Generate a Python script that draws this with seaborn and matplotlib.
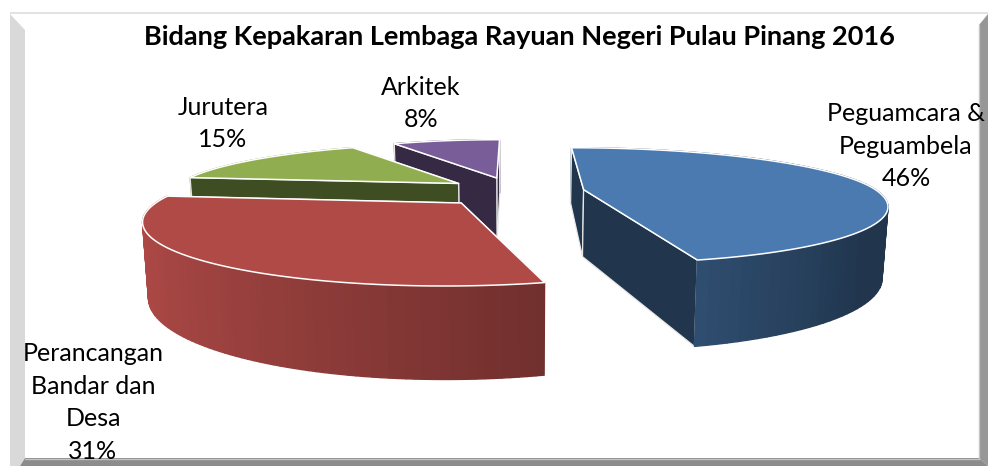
import numpy as np
import matplotlib
matplotlib.use('Agg')
import matplotlib.pyplot as plt
from matplotlib.patches import Polygon
import seaborn as sns

# data
kategori = ['Peguamcara &\nPeguambela', 'Perancangan\nBandar dan\nDesa', 'Jurutera', 'Arkitek']
nilai = [46, 31, 15, 8]
warna = ['#4a7ab0', '#b04a47', '#90ae50', '#795d99']
label_pos = [(906, 146), (93, 402.5), (223, 123.5), (421, 103.5)]

sns.set_theme(style='white')
plt.rcParams['font.family'] = ['Lato', 'DejaVu Sans']

# perspective settings for the exploded 3D pie
CX, HORIZON = 513.5, -54
C0, DY = 0.004074, 0.0002436   # depth -> scale
FX = 0.29
RX = [4.13, 4.1, 4.05, 3.8]
GESER = [0, -0.04, 0.03, 0]    # small sideways nudge per slice
RY_BACK, RY_FRONT = 3.5, 3.9
Z_SCALE, X_SHRINK = 1.275, 0.984


def proj(x, y, bottom=False):
    s = 1 / (C0 + DY * np.asarray(y))
    sx = FX * np.asarray(x) * s
    if bottom:
        return CX + sx * X_SHRINK, HORIZON + s * Z_SCALE
    return CX + sx, HORIZON + s


def shade(col, f):
    return tuple(np.array(matplotlib.colors.to_rgb(col)) * f)


def wall_factor(deg):
    # walls get darker toward the right of the picture
    return np.interp(np.sin(np.radians(deg)), [-1, .25, .8], [1.0, .64, .44])


fig, ax = plt.subplots(figsize=(9.88, 4.66), dpi=100)
fig.subplots_adjust(0, 0, 1, 1)
ax.set_xlim(0, 988)
ax.set_ylim(466, 0)
ax.axis('off')

# frame
ax.add_patch(Polygon([(10, 14), (25, 30), (25, 458), (20, 466), (10, 466)], fc='#d9d9d9', ec='none'))
ax.add_patch(Polygon([(10, 12), (988, 12), (988, 14), (10, 14)], fc='#e2e2e2', ec='none'))
ax.add_patch(Polygon([(979, 25), (988, 14), (988, 466), (979, 458)], fc='#979797', ec='none'))
ax.add_patch(Polygon([(25, 458), (979, 458), (988, 466), (20, 466)], fc='#8c8c8c', ec='none'))
ax.plot([25, 979, 979], [458.5, 458.5, 25], color='#c4c4c4', lw=1)

pct = np.array(nilai) / sum(nilai)
mulai = 360 * np.concatenate([[0], np.cumsum(pct)[:-1]])
sudut = 360 * pct

# back slices first
for i in [3, 2, 1, 0]:
    a0, a1 = mulai[i], mulai[i] + sudut[i]
    mid = np.radians((a0 + a1) / 2)
    ox, oy = np.sin(mid) + GESER[i], np.cos(mid)
    th = np.radians(np.linspace(a0, a1, 90))
    ry = np.where(np.cos(th) > 0, RY_BACK, RY_FRONT)
    rx_arr = ox + RX[i] * np.sin(th)
    ry_arr = oy + ry * np.cos(th)

    faces = []
    # outer wall strips
    for k in range(len(th) - 1):
        xs = [rx_arr[k], rx_arr[k + 1]]
        ys = [ry_arr[k], ry_arr[k + 1]]
        tx, ty = proj(xs, ys)
        bx, by = proj(xs, ys, True)
        pts = [(tx[0], ty[0]), (tx[1], ty[1]), (bx[1], by[1]), (bx[0], by[0])]
        faces.append((np.mean(ys), pts, shade(warna[i], wall_factor(np.degrees(th[k]))), False))
    # cut faces
    for j in [0, -1]:
        xs = [ox, rx_arr[j]]
        ys = [oy, ry_arr[j]]
        tx, ty = proj(xs, ys)
        bx, by = proj(xs, ys, True)
        pts = [(tx[0], ty[0]), (tx[1], ty[1]), (bx[1], by[1]), (bx[0], by[0])]
        faces.append((np.mean(ys), pts, shade(warna[i], .44), True))

    for _, pts, fc, tepi in sorted(faces, key=lambda f: -f[0]):
        if tepi:
            ax.add_patch(Polygon(pts, fc=fc, ec='#e8e8e8', lw=0.9))
        else:
            ax.add_patch(Polygon(pts, fc=fc, ec=fc, lw=1.0))

    # top face
    tx, ty = proj(np.r_[ox, rx_arr], np.r_[oy, ry_arr])
    ax.add_patch(Polygon(np.c_[tx, ty], fc=warna[i], ec='white', lw=1.1, joinstyle='round'))

# labels
for nama, v, (lx, ly) in zip(kategori, nilai, label_pos):
    ax.text(lx, ly, f'{nama}\n{v}%', ha='center', va='center', fontsize=18,
            color='black', linespacing=1.5)

ax.text(519, 37, 'Bidang Kepakaran Lembaga Rayuan Negeri Pulau Pinang 2016', ha='center', va='center',
        fontsize=19.5, fontweight='bold', color='black')

fig.savefig('out.png', dpi=100)
